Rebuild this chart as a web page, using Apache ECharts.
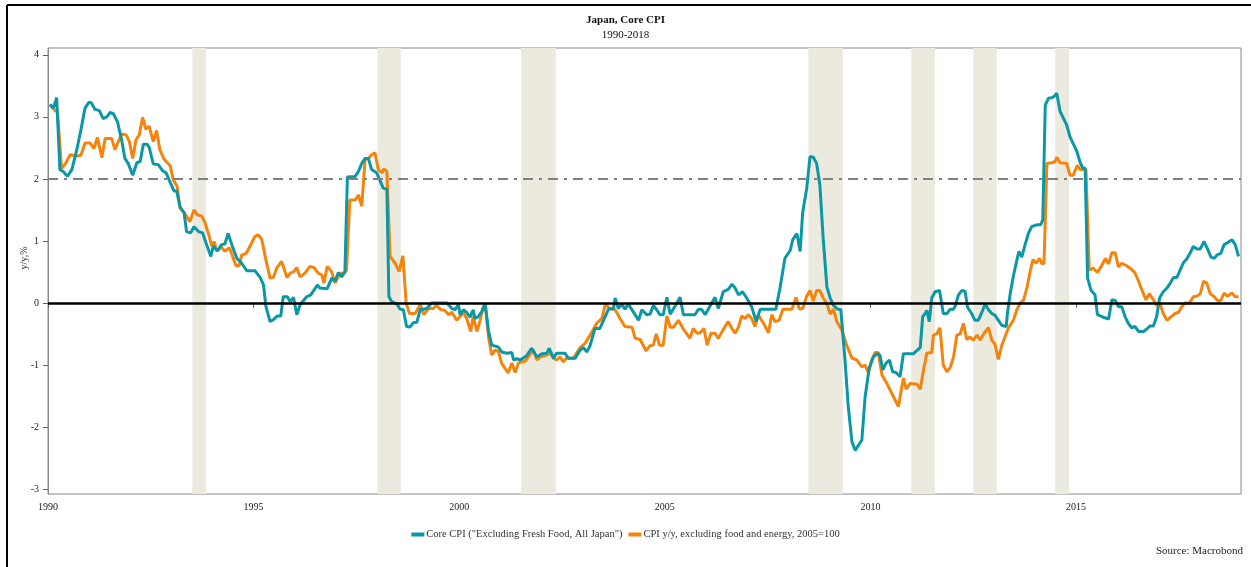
<!DOCTYPE html>
<html>
<head>
<meta charset="utf-8">
<script src="https://cdn.jsdelivr.net/npm/echarts@6/dist/echarts.min.js"></script>
<style>
  html, body { margin: 0; padding: 0; background: #fff; }
  #chart-container { width: 1251px; height: 567px; }
</style>
</head>
<body>
<div id="chart-container"></div>
<script>
// Core CPI (Excluding Fresh Food, All Japan), y/y %
const coreYears = [
  1990.05, 1990.13, 1990.21, 1990.29, 1990.37, 1990.47, 1990.58, 1990.70, 1990.80, 1990.90,
  1991.00, 1991.06, 1991.14, 1991.25, 1991.34, 1991.43, 1991.51, 1991.59, 1991.69, 1991.79,
  1991.87, 1991.95, 1992.06, 1992.16, 1992.24, 1992.32, 1992.41, 1992.46, 1992.56, 1992.68,
  1992.79, 1992.87, 1992.98, 1993.06, 1993.13, 1993.21, 1993.31, 1993.37, 1993.47, 1993.55,
  1993.66, 1993.76, 1993.84, 1993.96, 1994.02, 1994.12, 1994.22, 1994.30, 1994.38, 1994.47,
  1994.59, 1994.71, 1994.83, 1995.03, 1995.16, 1995.24, 1995.30, 1995.40, 1995.48, 1995.58,
  1995.66, 1995.72, 1995.82, 1995.89, 1995.97, 1996.05, 1996.13, 1996.29, 1996.39, 1996.55,
  1996.61, 1996.79, 1996.90, 1996.98, 1997.06, 1997.14, 1997.22, 1997.28, 1997.47, 1997.55,
  1997.63, 1997.71, 1997.79, 1997.87, 1997.99, 1998.07, 1998.15, 1998.24, 1998.29, 1998.36,
  1998.49, 1998.56, 1998.64, 1998.72, 1998.80, 1998.88, 1998.97, 1999.05, 1999.21, 1999.33,
  1999.70, 1999.82, 1999.90, 1999.98, 2000.02, 2000.10, 2000.18, 2000.26, 2000.34, 2000.38,
  2000.46, 2000.55, 2000.63, 2000.71, 2000.79, 2000.95, 2001.03, 2001.16, 2001.28, 2001.32,
  2001.40, 2001.48, 2001.64, 2001.76, 2001.89, 2002.01, 2002.13, 2002.19, 2002.29, 2002.37,
  2002.57, 2002.65, 2002.82, 2002.94, 2003.02, 2003.10, 2003.18, 2003.30, 2003.42, 2003.55,
  2003.63, 2003.75, 2003.79, 2003.87, 2003.95, 2004.03, 2004.11, 2004.23, 2004.36, 2004.44,
  2004.56, 2004.64, 2004.72, 2004.80, 2004.88, 2004.96, 2005.05, 2005.13, 2005.25, 2005.37,
  2005.45, 2005.73, 2005.82, 2005.90, 2005.98, 2006.10, 2006.22, 2006.30, 2006.42, 2006.54,
  2006.63, 2006.71, 2006.79, 2006.89, 2006.99, 2007.11, 2007.22, 2007.32, 2007.70, 2007.80,
  2007.92, 2008.05, 2008.11, 2008.21, 2008.29, 2008.35, 2008.45, 2008.53, 2008.61, 2008.69,
  2008.77, 2008.85, 2008.94, 2009.02, 2009.10, 2009.20, 2009.28, 2009.38, 2009.46, 2009.55,
  2009.63, 2009.71, 2009.79, 2009.87, 2009.97, 2010.07, 2010.17, 2010.23, 2010.30, 2010.38,
  2010.46, 2010.54, 2010.62, 2010.72, 2010.80, 2011.04, 2011.14, 2011.21, 2011.27, 2011.33,
  2011.37, 2011.43, 2011.49, 2011.57, 2011.68, 2011.77, 2011.86, 2011.94, 2012.02, 2012.06,
  2012.14, 2012.22, 2012.30, 2012.36, 2012.46, 2012.54, 2012.62, 2012.71, 2012.79, 2012.87,
  2012.95, 2013.03, 2013.11, 2013.19, 2013.30, 2013.33, 2013.40, 2013.48, 2013.56, 2013.61,
  2013.68, 2013.76, 2013.84, 2013.92, 2014.04, 2014.14, 2014.19, 2014.25, 2014.33, 2014.41,
  2014.47, 2014.53, 2014.61, 2014.69, 2014.77, 2014.85, 2014.93, 2015.02, 2015.10, 2015.16,
  2015.22, 2015.28, 2015.36, 2015.46, 2015.52, 2015.66, 2015.79, 2015.87, 2015.95, 2016.03,
  2016.11, 2016.19, 2016.27, 2016.35, 2016.43, 2016.52, 2016.64, 2016.72, 2016.80, 2016.88,
  2016.96, 2017.03, 2017.12, 2017.21, 2017.29, 2017.37, 2017.45, 2017.53, 2017.61, 2017.69,
  2017.77, 2017.85, 2017.94, 2018.02, 2018.11, 2018.19, 2018.28, 2018.36, 2018.44, 2018.52,
  2018.60, 2018.68, 2018.79, 2018.87, 2018.95
];
const coreValues = [
  3.20, 3.14, 3.31, 2.15, 2.12, 2.04, 2.15, 2.47, 2.79, 3.14,
  3.24, 3.22, 3.12, 3.10, 2.97, 3.00, 3.07, 3.05, 2.92, 2.63,
  2.33, 2.25, 2.06, 2.26, 2.28, 2.56, 2.56, 2.51, 2.24, 2.23,
  2.13, 2.10, 1.93, 1.81, 1.80, 1.55, 1.45, 1.15, 1.13, 1.23,
  1.15, 1.13, 0.97, 0.75, 0.92, 0.84, 0.94, 0.95, 1.12, 0.94,
  0.72, 0.64, 0.52, 0.52, 0.41, 0.29, -0.06, -0.30, -0.27, -0.21,
  -0.21, 0.10, 0.10, 0.02, 0.09, -0.19, -0.03, 0.10, 0.13, 0.29,
  0.24, 0.23, 0.40, 0.35, 0.49, 0.42, 0.50, 2.03, 2.04, 2.12,
  2.25, 2.33, 2.33, 2.15, 2.10, 1.98, 1.85, 1.83, 0.10, 0.02,
  -0.02, -0.10, -0.11, -0.38, -0.39, -0.32, -0.31, -0.11, -0.09, 0.00,
  0.00, -0.09, -0.11, -0.02, -0.19, -0.11, -0.15, -0.23, -0.11, -0.25,
  -0.22, -0.14, -0.01, -0.44, -0.68, -0.71, -0.79, -0.81, -0.80, -0.92,
  -0.90, -0.92, -0.85, -0.73, -0.87, -0.82, -0.81, -0.73, -0.89, -0.81,
  -0.81, -0.89, -0.89, -0.76, -0.72, -0.79, -0.69, -0.41, -0.41, -0.22,
  -0.10, -0.09, 0.08, -0.09, -0.02, -0.10, -0.02, -0.14, -0.28, -0.11,
  -0.19, -0.18, -0.04, -0.11, -0.19, -0.19, 0.09, -0.18, -0.05, 0.09,
  -0.19, -0.19, -0.10, -0.11, -0.19, -0.05, 0.09, -0.09, 0.18, 0.22,
  0.30, 0.24, 0.13, 0.18, 0.08, -0.06, -0.30, -0.10, -0.10, 0.24,
  0.72, 0.85, 1.02, 1.12, 0.83, 1.45, 1.85, 2.36, 2.35, 2.25,
  1.90, 1.04, 0.26, 0.08, -0.04, -0.10, -0.11, -0.92, -1.67, -2.24,
  -2.38, -2.29, -2.21, -1.51, -1.05, -0.87, -0.82, -0.84, -1.08, -0.97,
  -0.92, -1.11, -1.12, -1.19, -0.82, -0.82, -0.76, -0.72, -0.22, -0.17,
  -0.12, -0.30, 0.08, 0.18, 0.20, -0.17, -0.17, -0.10, -0.10, -0.05,
  0.13, 0.20, 0.19, -0.07, -0.17, -0.28, -0.28, -0.15, -0.02, -0.11,
  -0.17, -0.20, -0.28, -0.36, -0.38, -0.17, 0.16, 0.45, 0.69, 0.83,
  0.74, 0.94, 1.12, 1.23, 1.26, 1.26, 1.34, 3.19, 3.30, 3.31,
  3.33, 3.38, 3.09, 2.98, 2.87, 2.68, 2.57, 2.44, 2.26, 2.18,
  2.17, 0.40, 0.21, 0.13, -0.19, -0.23, -0.26, 0.05, 0.04, -0.06,
  -0.06, -0.22, -0.33, -0.40, -0.38, -0.46, -0.46, -0.42, -0.37, -0.37,
  -0.22, 0.08, 0.18, 0.24, 0.32, 0.41, 0.41, 0.53, 0.65, 0.71,
  0.80, 0.91, 0.87, 0.87, 0.99, 0.88, 0.74, 0.72, 0.78, 0.80,
  0.94, 0.97, 1.02, 0.94, 0.75
];

// CPI y/y, excluding food and energy, 2005=100
const cpiYears = [
  1990.05, 1990.17, 1990.23, 1990.33, 1990.41, 1990.54, 1990.70, 1990.80, 1990.90, 1991.02,
  1991.12, 1991.20, 1991.31, 1991.39, 1991.55, 1991.63, 1991.71, 1991.79, 1991.90, 1991.98,
  1992.06, 1992.14, 1992.22, 1992.30, 1992.38, 1992.46, 1992.56, 1992.64, 1992.72, 1992.82,
  1992.97, 1993.05, 1993.14, 1993.21, 1993.31, 1993.45, 1993.55, 1993.63, 1993.74, 1993.82,
  1993.90, 1993.98, 1994.04, 1994.10, 1994.22, 1994.30, 1994.41, 1994.49, 1994.57, 1994.65,
  1994.71, 1994.82, 1994.91, 1995.03, 1995.11, 1995.20, 1995.30, 1995.40, 1995.48, 1995.56,
  1995.68, 1995.81, 1995.89, 1995.97, 1996.05, 1996.13, 1996.25, 1996.37, 1996.47, 1996.57,
  1996.66, 1996.71, 1996.79, 1996.90, 1996.98, 1997.10, 1997.20, 1997.26, 1997.34, 1997.47,
  1997.55, 1997.63, 1997.71, 1997.79, 1997.87, 1997.95, 1998.03, 1998.12, 1998.17, 1998.24,
  1998.32, 1998.44, 1998.54, 1998.63, 1998.71, 1998.79, 1998.93, 1999.05, 1999.14, 1999.25,
  1999.37, 1999.45, 1999.55, 1999.65, 1999.74, 1999.82, 1999.94, 2000.02, 2000.10, 2000.18,
  2000.28, 2000.34, 2000.43, 2000.51, 2000.57, 2000.63, 2000.71, 2000.79, 2000.87, 2000.95,
  2001.03, 2001.11, 2001.19, 2001.28, 2001.36, 2001.44, 2001.52, 2001.60, 2001.68, 2001.80,
  2001.89, 2001.97, 2002.09, 2002.21, 2002.29, 2002.37, 2002.45, 2002.53, 2002.61, 2002.78,
  2002.94, 2003.06, 2003.18, 2003.34, 2003.47, 2003.55, 2003.67, 2003.79, 2003.91, 2004.03,
  2004.20, 2004.28, 2004.40, 2004.54, 2004.64, 2004.72, 2004.79, 2004.87, 2004.96, 2005.05,
  2005.13, 2005.21, 2005.33, 2005.45, 2005.61, 2005.69, 2005.78, 2005.86, 2005.95, 2006.03,
  2006.12, 2006.22, 2006.30, 2006.42, 2006.54, 2006.63, 2006.71, 2006.79, 2006.87, 2006.95,
  2007.03, 2007.11, 2007.19, 2007.27, 2007.40, 2007.52, 2007.60, 2007.68, 2007.78, 2007.87,
  2008.09, 2008.19, 2008.27, 2008.35, 2008.45, 2008.53, 2008.61, 2008.69, 2008.77, 2008.85,
  2008.94, 2009.02, 2009.10, 2009.18, 2009.30, 2009.42, 2009.55, 2009.67, 2009.79, 2009.87,
  2009.95, 2010.03, 2010.11, 2010.19, 2010.28, 2010.40, 2010.52, 2010.68, 2010.72, 2010.80,
  2010.87, 2010.96, 2011.13, 2011.21, 2011.29, 2011.37, 2011.49, 2011.53, 2011.61, 2011.69,
  2011.77, 2011.86, 2011.94, 2012.02, 2012.10, 2012.18, 2012.26, 2012.34, 2012.42, 2012.50,
  2012.59, 2012.67, 2012.75, 2012.87, 2012.95, 2013.03, 2013.11, 2013.19, 2013.27, 2013.35,
  2013.48, 2013.56, 2013.64, 2013.72, 2013.80, 2013.88, 2013.95, 2014.03, 2014.11, 2014.17,
  2014.22, 2014.29, 2014.41, 2014.49, 2014.53, 2014.61, 2014.77, 2014.85, 2014.93, 2015.03,
  2015.10, 2015.24, 2015.32, 2015.42, 2015.52, 2015.63, 2015.71, 2015.79, 2015.87, 2015.95,
  2016.03, 2016.11, 2016.23, 2016.35, 2016.43, 2016.52, 2016.60, 2016.70, 2016.78, 2016.88,
  2016.96, 2017.04, 2017.12, 2017.21, 2017.30, 2017.41, 2017.49, 2017.57, 2017.65, 2017.76,
  2017.85, 2017.94, 2018.02, 2018.10, 2018.18, 2018.26, 2018.36, 2018.44, 2018.52, 2018.60,
  2018.68, 2018.79, 2018.87, 2018.95
];
const cpiValues = [
  3.20, 3.10, 3.08, 2.17, 2.23, 2.39, 2.37, 2.38, 2.58, 2.58,
  2.49, 2.67, 2.34, 2.65, 2.65, 2.47, 2.60, 2.72, 2.71, 2.60,
  2.33, 2.63, 2.71, 2.99, 2.80, 2.85, 2.60, 2.78, 2.47, 2.32,
  2.21, 1.98, 1.88, 1.53, 1.46, 1.31, 1.50, 1.42, 1.40, 1.29,
  1.12, 0.92, 0.99, 0.84, 0.90, 0.83, 0.89, 0.75, 0.60, 0.60,
  0.77, 0.80, 0.91, 1.07, 1.10, 1.02, 0.69, 0.40, 0.41, 0.56,
  0.67, 0.41, 0.48, 0.50, 0.57, 0.42, 0.48, 0.59, 0.57, 0.48,
  0.45, 0.32, 0.59, 0.50, 0.32, 0.48, 0.48, 0.53, 1.66, 1.66,
  1.74, 1.56, 2.31, 2.33, 2.39, 2.42, 2.15, 2.10, 2.16, 2.12,
  0.75, 0.64, 0.51, 0.76, -0.01, -0.17, -0.17, -0.03, -0.19, -0.09,
  -0.09, -0.04, -0.11, -0.12, -0.19, -0.15, -0.28, -0.22, -0.15, -0.25,
  -0.46, -0.22, -0.46, -0.28, -0.09, -0.01, -0.54, -0.84, -0.76, -0.78,
  -0.97, -1.05, -1.13, -0.97, -1.12, -0.97, -0.95, -0.94, -0.87, -0.76,
  -0.92, -0.87, -0.85, -0.81, -0.89, -0.92, -0.87, -0.95, -0.89, -0.89,
  -0.72, -0.65, -0.52, -0.33, -0.25, -0.03, -0.09, -0.11, -0.25, -0.38,
  -0.39, -0.57, -0.59, -0.77, -0.69, -0.68, -0.50, -0.68, -0.68, -0.21,
  -0.39, -0.39, -0.28, -0.42, -0.57, -0.41, -0.49, -0.48, -0.41, -0.68,
  -0.49, -0.49, -0.57, -0.43, -0.30, -0.41, -0.49, -0.39, -0.21, -0.25,
  -0.19, -0.25, -0.38, -0.19, -0.33, -0.48, -0.19, -0.30, -0.28, -0.10,
  -0.10, 0.09, -0.10, -0.09, 0.11, 0.20, 0.03, 0.20, 0.20, 0.08,
  -0.01, -0.18, -0.10, -0.30, -0.43, -0.68, -0.89, -0.92, -1.03, -1.00,
  -1.13, -0.92, -0.80, -0.80, -1.16, -1.30, -1.46, -1.67, -1.70, -1.21,
  -1.39, -1.30, -1.31, -1.39, -1.08, -0.81, -0.80, -0.52, -0.50, -0.40,
  -1.00, -1.11, -1.04, -0.87, -0.52, -0.50, -0.33, -0.59, -0.55, -0.60,
  -0.52, -0.60, -0.50, -0.40, -0.60, -0.67, -0.91, -0.69, -0.55, -0.41,
  -0.27, -0.11, 0.00, 0.04, 0.23, 0.50, 0.70, 0.64, 0.72, 0.63,
  0.64, 2.25, 2.26, 2.28, 2.35, 2.26, 2.25, 2.06, 2.06, 2.22,
  2.15, 2.15, 0.53, 0.56, 0.49, 0.61, 0.72, 0.63, 0.81, 0.81,
  0.58, 0.64, 0.60, 0.54, 0.49, 0.35, 0.21, 0.05, 0.15, 0.05,
  -0.04, -0.01, -0.17, -0.28, -0.23, -0.17, -0.15, -0.06, 0.00, 0.00,
  0.10, 0.11, 0.15, 0.35, 0.32, 0.15, 0.10, 0.04, 0.04, 0.16,
  0.11, 0.16, 0.10, 0.10
];

// shaded periods
const shadeStart = [1993.51, 1998.01, 2001.50, 2008.49, 2010.99, 2012.50, 2014.49];
const shadeEnd = [1993.84, 1998.58, 2002.35, 2009.33, 2011.57, 2013.07, 2014.83];

const yTicks = [-3, -2, -1, 0, 1, 2, 3, 4];
const xTicks = [1990, 1995, 2000, 2005, 2010, 2015];

const seriesNames = [
  'Core CPI ("Excluding Fresh Food, All Japan")',
  'CPI y/y, excluding food and energy, 2005=100'
];

const serif = 'Liberation Serif';

function pairs(xs, ys) {
  return xs.map((x, i) => [x, ys[i]]);
}

let option = {
  animation: false,
  backgroundColor: '#fff',
  title: {
    text: 'Japan, Core CPI',
    subtext: '1990-2018',
    left: 'center',
    top: 10,
    itemGap: 4,
    textStyle: { fontFamily: serif, fontSize: 11, fontWeight: 'bold', color: '#111' },
    subtextStyle: { fontFamily: serif, fontSize: 11, color: '#111' }
  },
  legend: {
    data: seriesNames,
    top: 524,
    left: 'center',
    icon: 'rect',
    itemWidth: 13,
    itemHeight: 4,
    itemGap: 6,
    textStyle: { fontFamily: serif, fontSize: 10.5, color: '#333', padding: [0, 0, 0, -3] }
  },
  grid: {
    left: 48,
    right: 10,
    top: 48,
    bottom: 73,
    show: true,
    borderColor: '#888',
    borderWidth: 1,
    containLabel: false
  },
  xAxis: {
    type: 'value',
    min: 1990,
    max: 2019.01,
    splitLine: { show: false },
    axisLine: { lineStyle: { color: '#888' } },
    axisTick: { customValues: xTicks, length: 5, lineStyle: { color: '#666' } },
    axisLabel: {
      customValues: xTicks,
      formatter: (v) => String(v),
      margin: 8,
      fontFamily: serif,
      fontSize: 10,
      color: '#222'
    }
  },
  yAxis: {
    type: 'value',
    min: -3.08,
    max: 4.11,
    splitLine: { show: false },
    axisLine: { show: true, lineStyle: { color: '#888' } },
    axisTick: { show: true, customValues: yTicks, length: 5, lineStyle: { color: '#666' } },
    axisLabel: {
      customValues: yTicks,
      margin: 9,
      fontFamily: serif,
      fontSize: 10,
      color: '#222'
    }
  },
  graphic: [
    { type: 'line', shape: { x1: 7, y1: 5, x2: 1251, y2: 5 }, style: { stroke: '#000', lineWidth: 2 } },
    { type: 'line', shape: { x1: 7, y1: 5, x2: 7, y2: 567 }, style: { stroke: '#000', lineWidth: 2 } },
    {
      type: 'text',
      x: 24,
      y: 258,
      rotation: Math.PI / 2,
      style: { text: 'y/y,%', fontFamily: serif, fontSize: 10, fill: '#333', align: 'center', verticalAlign: 'middle' }
    },
    {
      type: 'text',
      right: 8,
      top: 546,
      style: { text: 'Source: Macrobond', fontFamily: serif, fontSize: 11, fill: '#222' }
    }
  ],
  series: [
    {
      name: 'shade',
      type: 'line',
      data: [],
      z: 1,
      silent: true,
      markArea: {
        silent: true,
        itemStyle: { color: '#ECE9DF' },
        data: shadeStart.map((s, i) => [{ xAxis: s }, { xAxis: shadeEnd[i] }])
      },
      markLine: {
        silent: true,
        symbol: 'none',
        label: { show: false },
        data: [
          { yAxis: 2, lineStyle: { color: '#808080', width: 2, type: [10, 6, 3, 6] } },
          { yAxis: 0, lineStyle: { color: '#000', width: 2.5, type: 'solid' } }
        ]
      }
    },
    {
      name: seriesNames[0],
      type: 'line',
      data: pairs(coreYears, coreValues),
      symbol: 'none',
      z: 4,
      itemStyle: { color: '#0A97A6' },
      lineStyle: { width: 3, color: '#0A97A6' }
    },
    {
      name: seriesNames[1],
      type: 'line',
      data: pairs(cpiYears, cpiValues),
      symbol: 'none',
      z: 3,
      itemStyle: { color: '#F5840C' },
      lineStyle: { width: 3, color: '#F5840C' }
    }
  ]
};

var myChart = echarts.init(document.getElementById('chart-container'));
myChart.setOption(option);
window.addEventListener('resize', myChart.resize);
</script>
</body>
</html>
